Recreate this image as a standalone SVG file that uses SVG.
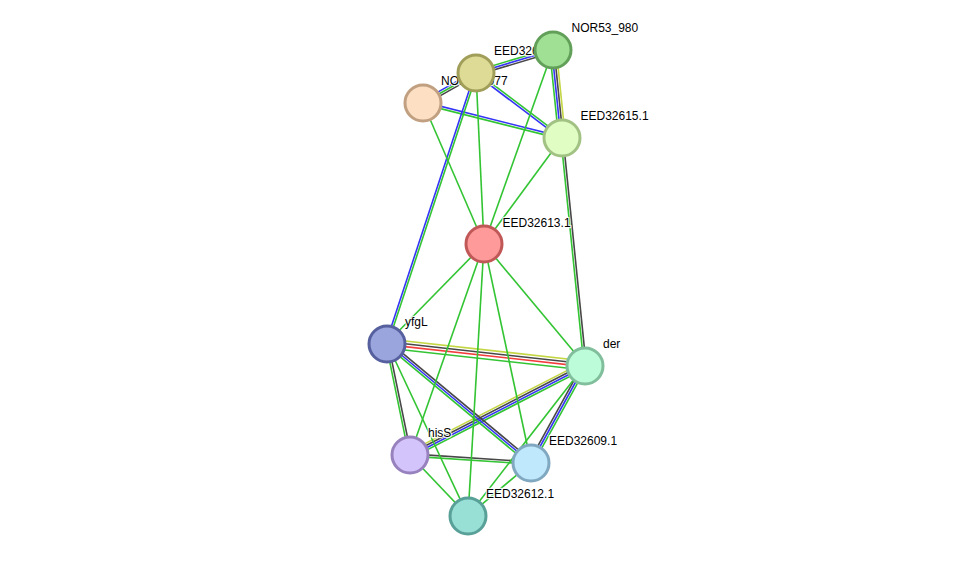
<svg xmlns="http://www.w3.org/2000/svg" width="976" height="561" viewBox="0 0 976 561">
<style>
.e line{stroke-width:1.6;stroke-linecap:butt}
.g{stroke:#33c433}
.b{stroke:#3535f5}
.k{stroke:#474747}
.y{stroke:#c4d643}
.r{stroke:#f23d3d}
.n circle{stroke-width:3}
.n text{font-family:"Liberation Sans",Arial,sans-serif;font-size:12px;fill:#000;stroke:#fff;stroke-width:2.5;stroke-opacity:0.85;paint-order:stroke;stroke-linejoin:round}
</style>
<rect width="976" height="561" fill="#fff"/>
<g id="edges" class="e">
<!-- peach - olive -->
<line class="b" x1="421.9" y1="101.1" x2="474.9" y2="71.1"/>
<line class="g" x1="423" y1="103" x2="476" y2="73"/>
<line class="k" x1="424.1" y1="104.9" x2="477.1" y2="74.9"/>
<!-- olive - NOR53 -->
<line class="g" x1="475.3" y1="70.9" x2="552.3" y2="47.9"/>
<line class="b" x1="476" y1="73" x2="553" y2="50"/>
<line class="k" x1="476.7" y1="75.1" x2="553.7" y2="52.1"/>
<!-- NOR53 - 615 -->
<line class="g" x1="549.7" y1="50.3" x2="558.7" y2="138.3"/>
<line class="b" x1="551.9" y1="50.1" x2="560.9" y2="138.1"/>
<line class="k" x1="554.1" y1="49.9" x2="563.1" y2="137.9"/>
<line class="y" x1="556.3" y1="49.7" x2="565.3" y2="137.7"/>
<!-- peach - 615 -->
<line class="b" x1="423.3" y1="101.9" x2="562.3" y2="136.9"/>
<line class="g" x1="422.7" y1="104.1" x2="561.7" y2="139.1"/>
<!-- olive - 615 -->
<line class="b" x1="475.3" y1="73.9" x2="561.3" y2="138.9"/>
<line class="g" x1="476.7" y1="72.1" x2="562.7" y2="137.1"/>
<!-- olive - yfgL -->
<line class="b" x1="475.0" y1="72.7" x2="386.0" y2="342.7"/>
<line class="g" x1="477.0" y1="73.3" x2="388.0" y2="343.3"/>
<!-- 615 - der -->
<line class="g" x1="560.9" y1="138.1" x2="583.9" y2="365.1"/>
<line class="k" x1="563.1" y1="137.9" x2="586.1" y2="364.9"/>
<!-- yfgL - der -->
<line class="y" x1="387.4" y1="339.0" x2="585.4" y2="361.0"/>
<line class="k" x1="387.1" y1="341.8" x2="585.1" y2="363.8"/>
<line class="r" x1="386.8" y1="344.6" x2="584.8" y2="366.6"/>
<line class="g" x1="386.5" y1="348.0" x2="584.5" y2="370.0"/>
<!-- der - hisS -->
<line class="y" x1="583.5" y1="362.1" x2="408.5" y2="452.1"/>
<line class="k" x1="584.5" y1="364.0" x2="409.5" y2="454.0"/>
<line class="b" x1="585.5" y1="366.0" x2="410.5" y2="456.0"/>
<line class="g" x1="586.5" y1="367.9" x2="411.5" y2="457.9"/>
<!-- yfgL - 609 -->
<line class="k" x1="388.4" y1="341.3" x2="532.4" y2="461.3"/>
<line class="b" x1="387" y1="343" x2="531" y2="463"/>
<line class="g" x1="385.6" y1="344.7" x2="529.6" y2="464.7"/>
<!-- der - 609 -->
<line class="k" x1="583.1" y1="363.9" x2="529.1" y2="461.9"/>
<line class="b" x1="585" y1="365" x2="531" y2="463"/>
<line class="g" x1="586.9" y1="366.1" x2="532.9" y2="464.1"/>
<!-- hisS - 609 -->
<line class="k" x1="410.1" y1="453.9" x2="531.1" y2="461.9"/>
<line class="g" x1="409.9" y1="456.1" x2="530.9" y2="464.1"/>
<!-- yfgL - hisS -->
<line class="g" x1="385.9" y1="343.2" x2="408.9" y2="455.2"/>
<line class="k" x1="388.1" y1="342.8" x2="411.1" y2="454.8"/>
<!-- single green edges -->
<line class="g" x1="423" y1="103" x2="484" y2="244"/>
<line class="g" x1="476" y1="73" x2="484" y2="244"/>
<line class="g" x1="553" y1="50" x2="484" y2="244"/>
<line class="g" x1="562" y1="138" x2="484" y2="244"/>
<line class="g" x1="484" y1="244" x2="387" y2="343"/>
<line class="g" x1="484" y1="244" x2="585" y2="365"/>
<line class="g" x1="484" y1="244" x2="410" y2="455"/>
<line class="g" x1="484" y1="244" x2="468" y2="516"/>
<line class="g" x1="484" y1="244" x2="531" y2="463"/>
<line class="g" x1="387" y1="343" x2="468" y2="516"/>
<line class="g" x1="585" y1="365" x2="468" y2="516"/>
<line class="g" x1="410" y1="455" x2="468" y2="516"/>
<line class="g" x1="531" y1="463" x2="468" y2="516"/>
</g>
<g id="node-EED32613.1" class="n"><circle cx="484" cy="244" r="18" fill="#fe9a9a" stroke="#c05858"/><text x="502.5" y="227">EED32613.1</text></g>
<g id="node-EED32615.1" class="n"><circle cx="562" cy="138" r="18" fill="#e0fec4" stroke="#a2c284"/><text x="580.5" y="120">EED32615.1</text></g>
<g id="node-NOR53_977" class="n"><circle cx="423" cy="103" r="18" fill="#fde0c4" stroke="#c0a080"/><text x="441" y="85">NOR53_977</text></g>
<g id="node-EED32614.1" class="n"><circle cx="476" cy="73" r="18" fill="#dedb97" stroke="#a09e58"/><text x="494" y="55">EED32614.1</text></g>
<g id="node-NOR53_980" class="n"><circle cx="553" cy="50" r="18" fill="#a0e094" stroke="#62a05a"/><text x="571.5" y="32">NOR53_980</text></g>
<g id="node-yfgL" class="n"><circle cx="387" cy="344" r="18" fill="#9aa4dd" stroke="#56609e"/><text x="405" y="326">yfgL</text></g>
<g id="node-der" class="n"><circle cx="585" cy="366" r="18" fill="#bcfcd8" stroke="#80be9c"/><text x="603" y="348">der</text></g>
<g id="node-hisS" class="n"><circle cx="410" cy="455" r="18" fill="#d4c4fc" stroke="#9882be"/><text x="428" y="437">hisS</text></g>
<g id="node-EED32609.1" class="n"><circle cx="531" cy="463" r="18" fill="#c0e8fc" stroke="#80a8c0"/><text x="549" y="445">EED32609.1</text></g>
<g id="node-EED32612.1" class="n"><circle cx="468" cy="516" r="18" fill="#98e0d6" stroke="#58a098"/><text x="486" y="498">EED32612.1</text></g>
</svg>
